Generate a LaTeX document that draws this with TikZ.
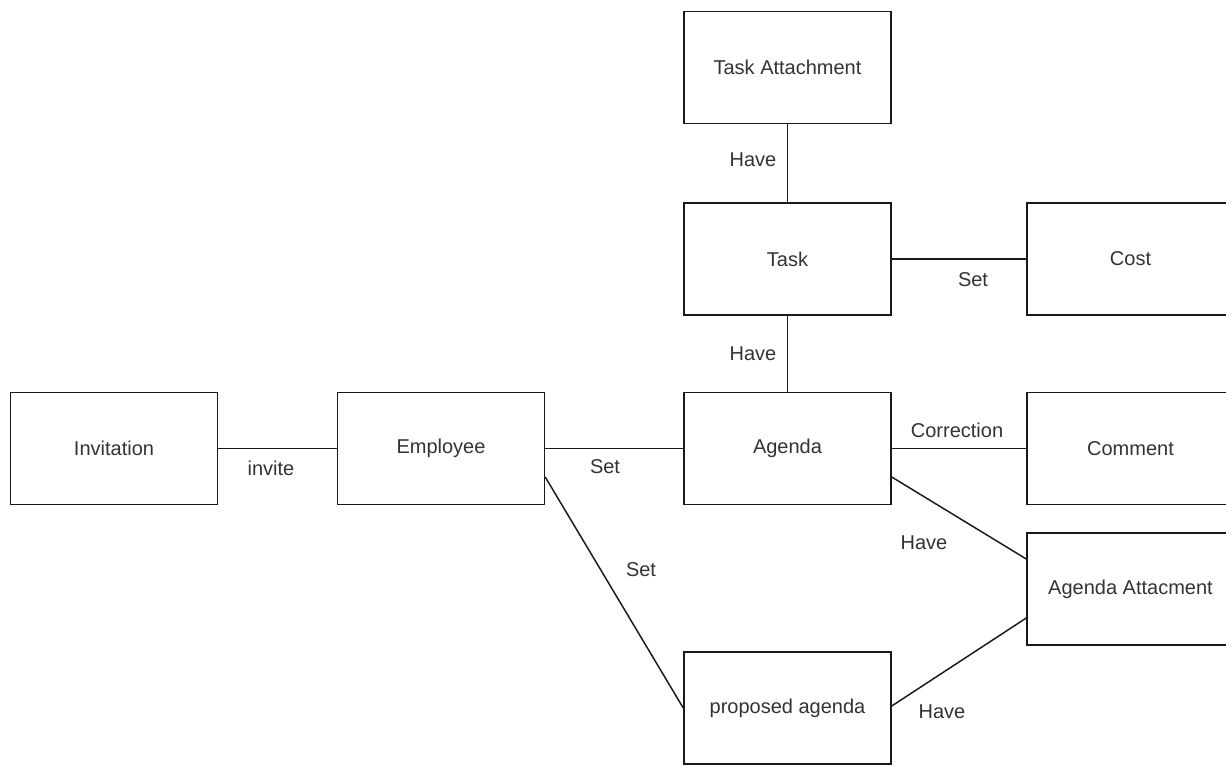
\documentclass[tikz,border=0pt]{standalone}
\usepackage{fontspec}
\setmainfont{Liberation Sans}
\usetikzlibrary{calc}
\begin{document}
\begin{tikzpicture}[x=0.75pt,y=-0.75pt,
  entity/.style={draw=black!90,line width=1.1pt,minimum width=155.25pt,minimum height=84pt,inner sep=0pt,fill=white,font=\fontsize{15}{18}\selectfont,text=black!80},
  lbl/.style={font=\fontsize{15}{18}\selectfont,text=black!80,inner sep=0pt},
  link/.style={draw=black!90,line width=1.1pt}]
\useasboundingbox (0,0) rectangle (1226,766);
\clip (0,0) rectangle (1226,766);
\fill[white] (0,0) rectangle (1226,766);
% nodes
\node[entity] (ta) at (787.5,67.5) {Task Attachment};
\node[entity] (task) at (787.5,259) {Task};
\node[entity] (cost) at (1130.5,259) {Cost};
\node[entity] (inv) at (114,448.5) {Invitation};
\node[entity] (emp) at (441,448.5) {Employee};
\node[entity] (ag) at (787.5,448.5) {Agenda};
\node[entity] (com) at (1130.5,448.5) {Comment};
\node[entity] (aa) at (1130.5,589) {Agenda Attacment};
\node[entity] (pa) at (787.5,708) {proposed agenda};
% connectors
\draw[link] (inv.east) -- (emp.east -| emp.west);
\draw[link] (emp.east) -- (ag.west);
\draw[link] (ag.east) -- (com.west);
\draw[link] (ta.south) -- (task.north);
\draw[link] (task.south) -- (ag.north);
\draw[link] (task.east) -- (cost.west);
\draw[link] ($(emp.east)+(0,28.5)$) -- (pa.west);
\draw[link] ($(ag.east)+(0,28.5)$) -- ($(aa.west)+(0,-30)$);
\draw[link] ($(pa.east)+(0,-2)$) -- ($(aa.west)+(0,29)$);
% labels
\node[lbl] (l1) at (271,468) {invite};
\node[lbl] (l2) at (605,467) {Set};
\node[lbl] (l3) at (641,570) {Set};
\node[lbl] (l4) at (753,160) {Have};
\node[lbl] (l5) at (753,354) {Have};
\node[lbl] (l6) at (973,280) {Set};
\node[lbl] (l7) at (957,430) {Correction};
\node[lbl] (l8) at (924,543) {Have};
\node[lbl] (l9) at (942,712) {Have};
\end{tikzpicture}
\end{document}
